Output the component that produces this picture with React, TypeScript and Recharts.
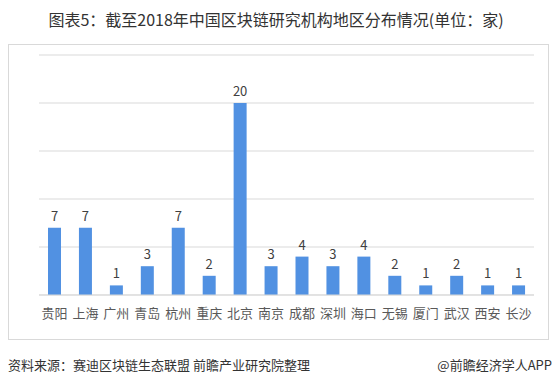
import { Bar, BarChart, CartesianGrid, LabelList, XAxis, YAxis } from "recharts"

const cities = ["贵阳", "上海", "广州", "青岛", "杭州", "重庆", "北京", "南京", "成都", "深圳", "海口", "无锡", "厦门", "武汉", "西安", "长沙"]
const counts = [7, 7, 1, 3, 7, 2, 20, 3, 4, 3, 4, 2, 1, 2, 1, 1]
const yTicks = [0, 5, 10, 15, 20, 25]

const data = cities.map((city, i) => ({ city, count: counts[i] }))

const font = '"Noto Sans CJK SC", "Noto Sans", sans-serif'

export default function App() {
  return (
    <div style={{ position: "absolute", left: 0, top: 0, width: 552, height: 385, background: "#fff", fontFamily: font }}>
      <div style={{ position: "absolute", top: 7, left: 0, width: 552, textAlign: "center", fontSize: 16, color: "#333" }}>
        图表5：截至2018年中国区块链研究机构地区分布情况(单位：家)
      </div>
      <div style={{ position: "absolute", left: 8, top: 44, width: 539, height: 294, border: "1px solid #d9d9d9" }}>
        <BarChart
          width={539}
          height={294}
          data={data}
          margin={{ top: 10, right: 14, left: 30, bottom: 14 }}
        >
          <CartesianGrid vertical={false} stroke="#d9d9d9" />
          <XAxis
            dataKey="city"
            interval={0}
            tickLine={false}
            axisLine={{ stroke: "#d9d9d9" }}
            height={30}
            tickMargin={8}
            tick={{ fontSize: 13, fill: "#595959", fontFamily: font }}
          />
          <YAxis hide domain={[0, 25]} ticks={yTicks} />
          <Bar dataKey="count" fill="#5191e2" barSize={13} isAnimationActive={false}>
            <LabelList dataKey="count" position="top" offset={7} style={{ fontSize: 13, fill: "#404040", fontFamily: font }} />
          </Bar>
        </BarChart>
      </div>
      <div style={{ position: "absolute", left: 8, top: 355, fontSize: 13, color: "#333" }}>
        资料来源：赛迪区块链生态联盟 前瞻产业研究院整理
      </div>
      <div style={{ position: "absolute", right: 0, top: 355, fontSize: 13, color: "#333" }}>
        @前瞻经济学人APP
      </div>
    </div>
  )
}
